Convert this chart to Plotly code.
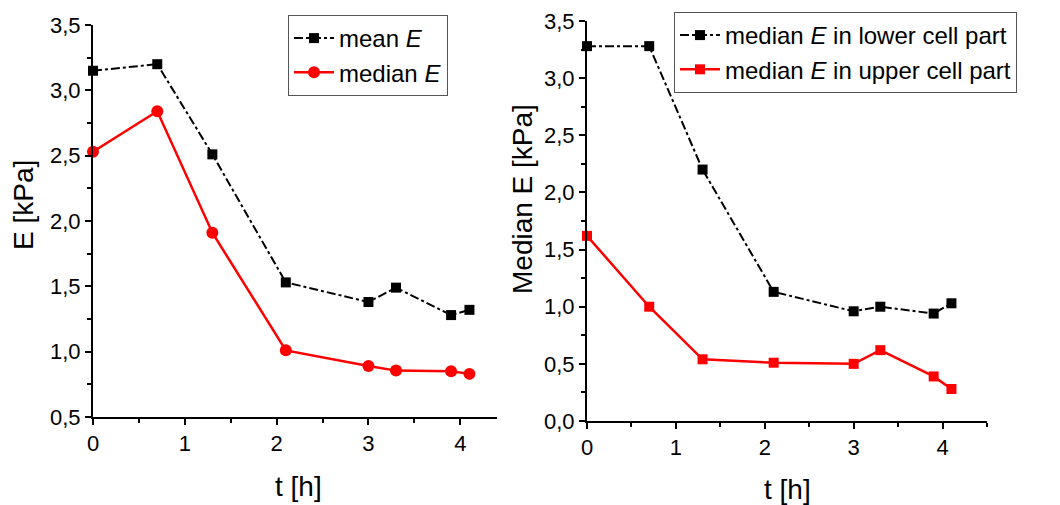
import plotly.graph_objects as go

t = [0, 0.7, 1.3, 2.1, 3.0, 3.3, 3.9, 4.1]
mean_E = [3.15, 3.20, 2.51, 1.53, 1.38, 1.49, 1.28, 1.32]
median_E = [2.53, 2.84, 1.91, 1.01, 0.89, 0.855, 0.85, 0.83]
lower_E = [3.28, 3.28, 2.20, 1.13, 0.96, 1.00, 0.94, 1.03]
upper_E = [1.62, 1.00, 0.54, 0.51, 0.50, 0.62, 0.39, 0.28]

FONT = "Liberation Sans, Arial, sans-serif"
W, H = 1060, 505

fig = go.Figure()
fig.add_trace(go.Scatter(x=t, y=mean_E, name="mean <i>E</i>", mode="lines+markers",
                         line=dict(color="black", width=2, dash="dashdot"),
                         marker=dict(symbol="square", size=10, color="black"),
                         cliponaxis=False, xaxis="x", yaxis="y", legend="legend"))
fig.add_trace(go.Scatter(x=t, y=median_E, name="median <i>E</i>", mode="lines+markers",
                         line=dict(color="#ff0000", width=2.5),
                         marker=dict(symbol="circle", size=12, color="#ff0000"),
                         cliponaxis=False, xaxis="x", yaxis="y", legend="legend"))
fig.add_trace(go.Scatter(x=t, y=lower_E, name="median <i>E</i> in lower cell part", mode="lines+markers",
                         line=dict(color="black", width=2, dash="dashdot"),
                         marker=dict(symbol="square", size=10, color="black"),
                         cliponaxis=False, xaxis="x2", yaxis="y2", legend="legend2"))
fig.add_trace(go.Scatter(x=t, y=upper_E, name="median <i>E</i> in upper cell part", mode="lines+markers",
                         line=dict(color="#ff0000", width=2.5),
                         marker=dict(symbol="square", size=10, color="#ff0000"),
                         cliponaxis=False, xaxis="x2", yaxis="y2", legend="legend2"))

axis_common = dict(showline=True, linecolor="black", linewidth=2, ticks="outside",
                   ticklen=6, tickwidth=2, tickcolor="black", showgrid=False, zeroline=False,
                   automargin=False,
                   tickfont=dict(family=FONT, size=22, color="black"))
minor_x = dict(dtick=0.5, ticklen=4, tickwidth=2, tickcolor="black", ticks="outside")
minor_y = dict(dtick=0.25, ticklen=4, tickwidth=2, tickcolor="black", ticks="outside")

fig.update_layout(
    width=W, height=H,
    margin=dict(l=0, r=0, t=0, b=0, autoexpand=False),
    paper_bgcolor="white", plot_bgcolor="white",
    separators=",.",
    font=dict(family=FONT, color="black"),
    xaxis=dict(domain=[93 / W, 497 / W], range=[0, 4.4], dtick=1, tick0=0, anchor="y",
               minor=minor_x, **axis_common),
    yaxis=dict(domain=[(H - 417) / H, (H - 25) / H], range=[0.5, 3.5], dtick=0.5, tick0=0,
               tickformat=".1f", anchor="x", minor=minor_y, **axis_common),
    xaxis2=dict(domain=[587 / W, 987 / W], range=[0, 4.5], dtick=1, tick0=0, anchor="y2",
                minor=minor_x, **axis_common),
    yaxis2=dict(domain=[(H - 421) / H, (H - 21) / H], range=[0, 3.5], dtick=0.5, tick0=0,
                tickformat=".1f", anchor="x2", minor=minor_y, **axis_common),
    legend=dict(x=288 / W, y=(H - 15) / H, xanchor="left", yanchor="top",
                xref="paper", yref="paper",
                bordercolor="#555555", borderwidth=1, bgcolor="white",
                font=dict(family=FONT, size=24, color="black"), itemwidth=40),
    legend2=dict(x=674 / W, y=(H - 12) / H, xanchor="left", yanchor="top",
                 xref="paper", yref="paper",
                 bordercolor="#555555", borderwidth=1, bgcolor="white",
                 font=dict(family=FONT, size=24, color="black"), itemwidth=40),
    showlegend=True,
)

annots = [
    dict(text="E [kPa]", x=23 / W, y=(H - 205) / H, textangle=-90),
    dict(text="t [h]", x=298 / W, y=(H - 486) / H),
    dict(text="Median E [kPa]", x=522 / W, y=(H - 199) / H, textangle=-90),
    dict(text="t [h]", x=787 / W, y=(H - 489) / H),
]
for a in annots:
    fig.add_annotation(xref="paper", yref="paper", showarrow=False, xanchor="center", yanchor="middle",
                       font=dict(family=FONT, size=28, color="black"),
                       text=a["text"], x=a["x"], y=a["y"], textangle=a.get("textangle", 0))

fig.write_html("out.html")
